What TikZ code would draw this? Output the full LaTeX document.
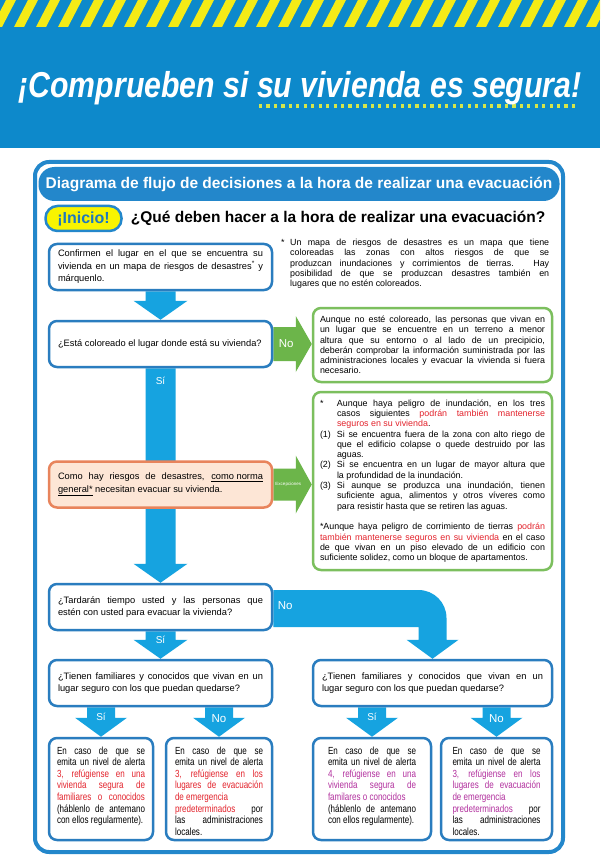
\documentclass[tikz,border=0pt]{standalone}
\usepackage{fontspec}
\setmainfont{Liberation Sans}
\newfontfamily\narrowsans{Liberation Sans}[FakeStretch=0.78]
\definecolor{HeadBlue}{HTML}{0D89CB}
\definecolor{StripeYellow}{HTML}{F4EB16}
\definecolor{DotGreen}{HTML}{D5E64B}
\definecolor{FrameBlue}{HTML}{2387CB}
\definecolor{EdgeBlue}{HTML}{2A7DBF}
\definecolor{FlowBlue}{HTML}{16A3E0}
\definecolor{FlowGreen}{HTML}{6CB54A}
\definecolor{GreenEdge}{HTML}{7CBF5E}
\definecolor{OrangeEdge}{HTML}{E8845C}
\definecolor{OrangeFill}{HTML}{FDE6D6}
\definecolor{InicioYellow}{HTML}{F8F400}
\definecolor{InicioText}{HTML}{1F78BE}
\definecolor{AlertRed}{HTML}{E3232C}
\definecolor{AlertMag}{HTML}{B2309E}
\usepackage{tikz}
\usetikzlibrary{calc,positioning,backgrounds}
\setlength{\parindent}{0pt}

\newcommand{\blockdown}[4]{%
  \fill[FlowBlue] let \p1=(#1), \p2=(#2) in
    (\x2-#3,\y1) -- (\x2-#3,\y2+19pt) -- (\x2-#4,\y2+19pt) -- (\x2,\y2)
    -- (\x2+#4,\y2+19pt) -- (\x2+#3,\y2+19pt) -- (\x2+#3,\y1) -- cycle;}
\newcommand{\blockright}[4]{%
  \fill[FlowGreen] let \p1=(#1), \p2=(#2) in
    (\x1,\y1+#3) -- (\x2-16pt,\y1+#3) -- (\x2-16pt,\y1+#4) -- (\x2,\y1)
    -- (\x2-16pt,\y1-#4) -- (\x2-16pt,\y1-#3) -- (\x1,\y1-#3) -- cycle;}
\newcommand{\itm}[2][17pt]{\hangindent=#1\hangafter=1\noindent\makebox[#1][l]{#2}}

\begin{document}
\begin{tikzpicture}[x=1pt,y=-1pt,
  flowbox/.style={draw=EdgeBlue,line width=2.5pt,rounded corners=8pt,fill=white,
    text width=205pt,inner xsep=9pt,minimum height=46pt,align=justify,
    font=\fontsize{9.3}{12.5}\selectfont},
  greenbox/.style={draw=GreenEdge,line width=2.5pt,rounded corners=8pt,fill=white,
    text width=225pt,inner xsep=7pt,align=justify,font=\fontsize{8.9}{10.3}\selectfont},
  alertbox/.style={draw=EdgeBlue,line width=2.5pt,rounded corners=8pt,fill=white,
    text width=88pt,inner xsep=8pt,inner ysep=5pt,text height=11pt,text depth=81pt,
    align=justify,font=\narrowsans\fontsize{10.3}{11.6}\selectfont},
  arrowlabel/.style={text=white,inner sep=0pt,font=\fontsize{10}{12}\selectfont},
  nolabel/.style={arrowlabel,font=\fontsize{11.5}{13}\selectfont}]
  \useasboundingbox (0,0) rectangle (600,866);

  \begin{scope}[on background layer]
    \fill[HeadBlue] (0,0) rectangle (600,148);
    \begin{scope}
      \clip (0,0) rectangle (600,27);
      \foreach \x in {-30,-8,...,600}
        \fill[StripeYellow] (\x,27) -- (\x+10,27) -- (\x+24,0) -- (\x+14,0) -- cycle;
    \end{scope}
    \foreach \i in {0,...,42}
      \fill[DotGreen] ({259+7.45*\i},104.5) rectangle +(3.2,3.2);
    \draw[FrameBlue,line width=4pt,fill=white,rounded corners=14pt] (35,162) rectangle (563,852);
  \end{scope}

  \node[text=white,font=\fontsize{36}{40}\selectfont\bfseries\itshape,xscale=0.84,anchor=base] (titulo) at (300,98) {¡Comprueben si su vivienda es segura!};
  \node[fill=FrameBlue,rounded corners=16pt,minimum width=521pt,minimum height=34pt,text=white,
    font=\fontsize{15.5}{18}\selectfont\bfseries] (barra) at (299,184) {Diagrama de flujo de decisiones a la hora de realizar una evacuación};
  \node[draw=FrameBlue,line width=2.5pt,fill=InicioYellow,rounded corners=12pt,minimum width=76pt,
    minimum height=25pt,inner sep=1pt,text=InicioText,font=\fontsize{16}{18}\selectfont\bfseries] (inicio) at (83.5,218.5) {¡Inicio!};
  \node[right=8pt of inicio,inner sep=0pt,font=\fontsize{15.5}{18}\selectfont\bfseries] (pregunta) {¿Qué deben hacer a la hora de realizar una evacuación?};

  \node[flowbox] (caja1) at (160.5,267) {Confirmen el lugar en el que se encuentra su\linebreak vivienda en un mapa de riesgos de desastres\textsuperscript{*} y\linebreak márquenlo.};
  \node[anchor=north west,text width=268pt,inner sep=0pt,align=justify,font=\fontsize{8.9}{10.3}\selectfont] (nota) at (281,239)
    {\itm[9pt]{*}Un mapa de riesgos de desastres es un mapa que tiene\linebreak coloreadas las zonas con altos riesgos de que se\linebreak produzcan inundaciones y corrimientos de tierras. Hay\linebreak posibilidad de que se produzcan desastres también en\linebreak lugares que no estén coloreados.\par};
  \node[flowbox] (caja2) at (160.5,344) {¿Está coloreado el lugar donde está su vivienda?};
  \node[greenbox,minimum height=74pt] (verdeA) at (432.5,345) {Aunque no esté coloreado, las personas que vivan en\linebreak un lugar que se encuentre en un terreno a menor\linebreak altura que su entorno o al lado de un precipicio,\linebreak deberán comprobar la información suministrada por las\linebreak administraciones locales y evacuar la vivienda si fuera\linebreak necesario.};
  \node[flowbox,draw=OrangeEdge,fill=OrangeFill] (caja3) at (160.5,484.5) {Como hay riesgos de desastres, \underline{como norma}\linebreak \underline{general*} necesitan evacuar su vivienda.};
  \node[greenbox,minimum height=178pt] (verdeB) at (432.5,481) {%
    \itm{*}Aunque haya peligro de inundación, en los tres\linebreak casos siguientes \textcolor{AlertRed}{podrán también mantenerse\linebreak seguros en su vivienda}.\par
    \itm{(1)}Si se encuentra fuera de la zona con alto riego de\linebreak que el edificio colapse o quede destruido por las\linebreak aguas.\par
    \itm{(2)}Si se encuentra en un lugar de mayor altura que\linebreak la profundidad de la inundación.\par
    \itm{(3)}Si aunque se produzca una inundación, tienen\linebreak suficiente agua, alimentos y otros víveres como\linebreak para resistir hasta que se retiren las aguas.\par
    \vskip 10.3pt
    \noindent *Aunque haya peligro de corrimiento de tierras \textcolor{AlertRed}{podrán\linebreak también mantenerse seguros en su vivienda} en el caso\linebreak de que vivan en un piso elevado de un edificio con\linebreak suficiente solidez, como un bloque de apartamentos.};
  \node[flowbox] (caja4) at (160.5,607) {¿Tardarán tiempo usted y las personas que\linebreak estén con usted para evacuar la vivienda?};
  \node[flowbox] (caja5) at (160.5,683) {¿Tienen familiares y conocidos que vivan en un\linebreak lugar seguro con los que puedan quedarse?};
  \node[flowbox,text width=221pt] (caja6) at (432.5,683) {¿Tienen familiares y conocidos que vivan en un\linebreak lugar seguro con los que puedan quedarse?};

  \node[alertbox,minimum width=104pt] (alerta1) at (101,789) {En caso de que se\linebreak emita un nivel de alerta\linebreak \textcolor{AlertRed}{3, refúgiense en una\linebreak vivienda segura de\linebreak familiares o conocidos}\linebreak (háblenlo de antemano\linebreak con ellos regularmente).};
  \node[alertbox,minimum width=106pt] (alerta2) at (219,789) {En caso de que se\linebreak emita un nivel de alerta\linebreak \textcolor{AlertRed}{3, refúgiense en los\linebreak lugares de evacuación\linebreak de emergencia\newline predeterminados} por\linebreak las administraciones\linebreak locales.};
  \node[alertbox,minimum width=118pt] (alerta3) at (372,789) {En caso de que se\linebreak emita un nivel de alerta\linebreak \textcolor{AlertMag}{4, refúgiense en una\linebreak vivienda segura de\linebreak familares o conocidos}\newline (háblenlo de antemano\linebreak con ellos regularmente).};
  \node[alertbox,minimum width=111pt] (alerta4) at (496.5,789) {En caso de que se\linebreak emita un nivel de alerta\linebreak \textcolor{AlertMag}{3, refúgiense en los\linebreak lugares de evacuación\linebreak de emergencia\newline predeterminados} por\linebreak las administraciones\linebreak locales.};

  \begin{scope}[on background layer]
    \blockdown{caja1.south}{caja2.north}{15pt}{27pt}
    \blockdown{caja2.south}{caja4.north}{15pt}{27pt}
    \blockdown{caja4.south}{caja5.north}{15pt}{27pt}
    \blockdown{caja5.south}{alerta1.north}{14pt}{26pt}
    \blockdown{caja5.south}{alerta2.north}{14pt}{26pt}
    \blockdown{caja6.south}{alerta3.north}{14pt}{26pt}
    \blockdown{caja6.south}{alerta4.north}{14pt}{26pt}
    \blockright{caja2.east}{verdeA.west}{17pt}{28pt}
    \blockright{caja3.east}{verdeB.west}{16pt}{29pt}
    \fill[FlowBlue] let \p1=(caja4.east), \p2=(caja6.north) in
      (\x1,\y1+17pt) -- (\x2-14pt,\y1+17pt)
      .. controls (\x2+1.5pt,\y1+17pt) and (\x2+14pt,\y1+4.5pt) .. (\x2+14pt,\y1-11pt)
      -- (\x2+14pt,\y2+19pt) -- (\x2+26pt,\y2+19pt) -- (\x2,\y2) -- (\x2-26pt,\y2+19pt)
      -- (\x2-14pt,\y2+19pt) -- (\x2-14pt,\y1-20pt) -- (\x1,\y1-20pt) -- cycle;
  \end{scope}

  \node[arrowlabel] (si1) at ($(caja2.south)+(0,13)$) {Sí};
  \node[nolabel] (no1) at ($(caja2.east)+(13,0)$) {No};
  \node[arrowlabel,font=\fontsize{4.5}{5}\selectfont] (excep) at ($(caja3.east)+(15,0)$) {Excepciones};
  \node[nolabel] (no2) at ($(caja4.east)+(12,-1)$) {No};
  \node[arrowlabel] (si2) at ($(caja4.south)+(0,9)$) {Sí};
  \node[arrowlabel] (si3) at ($(caja5.south -| alerta1.north)+(0,10)$) {Sí};
  \node[nolabel] (no3) at ($(caja5.south -| alerta2.north)+(0,11)$) {No};
  \node[arrowlabel] (si4) at ($(caja6.south -| alerta3.north)+(0,10)$) {Sí};
  \node[nolabel] (no4) at ($(caja6.south -| alerta4.north)+(0,11)$) {No};
\end{tikzpicture}
\end{document}
